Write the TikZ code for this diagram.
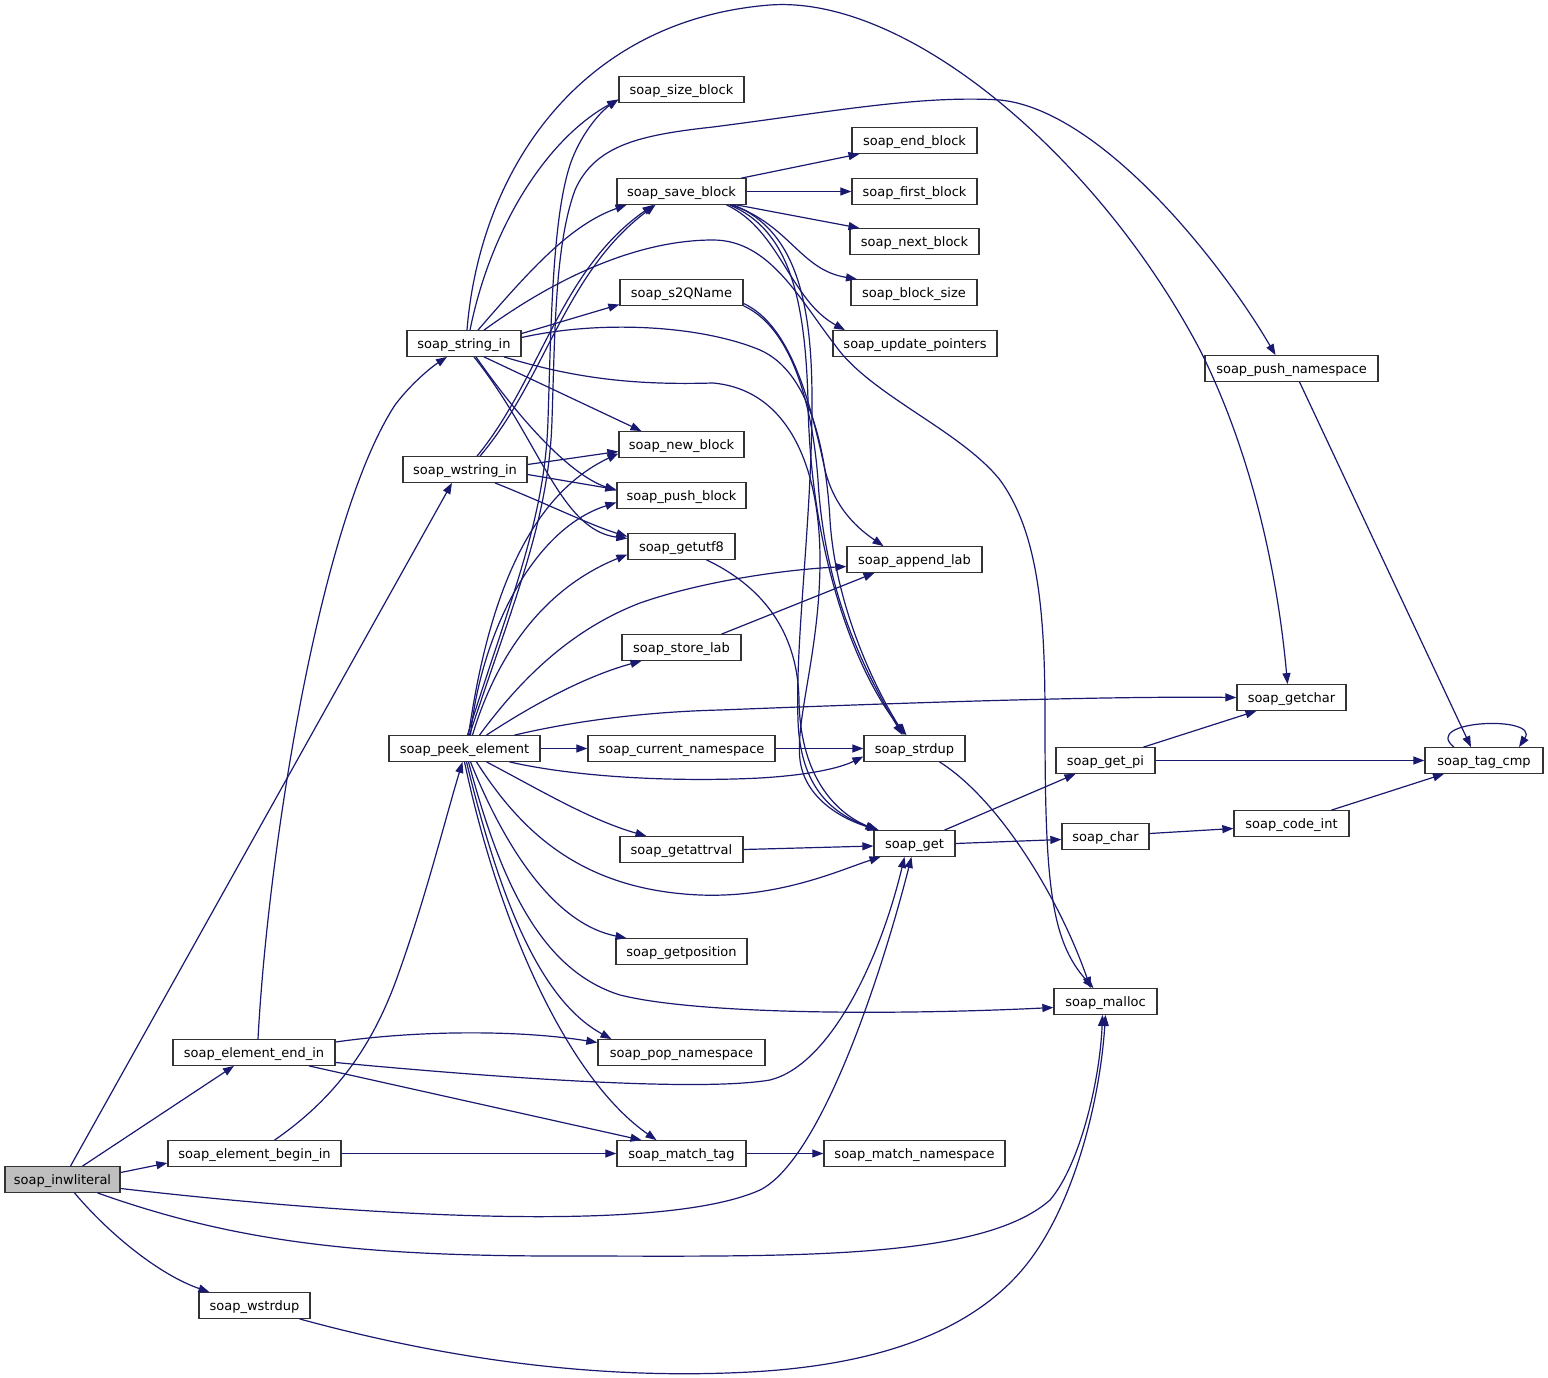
\documentclass[tikz,border=0pt]{standalone}
\usepackage{fontspec}
\setmainfont{DejaVu Sans}
\usetikzlibrary{arrows.meta}
\definecolor{edgecol}{RGB}{25,25,112}
\definecolor{grayfill}{RGB}{191,191,191}
\begin{document}
\begin{tikzpicture}[x=1pt,y=-1pt,
  fn/.style={draw=black!80, fill=white, line width=1.3pt, inner sep=0pt, minimum height=25.5pt,
    font=\fontsize{13pt}{15pt}\selectfont, text height=11pt, text depth=1.3pt},
  e/.style={draw=edgecol, line width=1.2pt, -{Triangle[length=11pt,width=8pt]}}]
\useasboundingbox (0,0) rectangle (1548,1378);
\fill[white] (0,0) rectangle (1548,1378);
% nodes
\node[fn, fill=grayfill, minimum width=115pt] (ilit) at (62.5,1179.5) {soap\_inwliteral};
\node[fn, minimum width=162pt] (eend) at (254,1052.5) {soap\_element\_end\_in};
\node[fn, minimum width=173pt] (ebeg) at (254.5,1153.5) {soap\_element\_begin\_in};
\node[fn, minimum width=111pt] (wdup) at (254.5,1305.5) {soap\_wstrdup};
\node[fn, minimum width=114pt] (sin) at (464,343.5) {soap\_string\_in};
\node[fn, minimum width=124pt] (wsin) at (465,469.5) {soap\_wstring\_in};
\node[fn, minimum width=151pt] (peek) at (464.5,748.5) {soap\_peek\_element};
\node[fn, minimum width=125pt] (sizeb) at (681.5,89.5) {soap\_size\_block};
\node[fn, minimum width=129pt] (saveb) at (681.5,191.5) {soap\_save\_block};
\node[fn, minimum width=123pt] (s2q) at (681.5,292.5) {soap\_s2QName};
\node[fn, minimum width=125pt] (newb) at (681.5,444.5) {soap\_new\_block};
\node[fn, minimum width=129pt] (pushb) at (681.5,495.5) {soap\_push\_block};
\node[fn, minimum width=107pt] (utf8) at (681.5,546.5) {soap\_getutf8};
\node[fn, minimum width=119pt] (store) at (681.5,647.5) {soap\_store\_lab};
\node[fn, minimum width=187pt] (curns) at (681.5,748.5) {soap\_current\_namespace};
\node[fn, minimum width=123pt] (attr) at (681.5,849.5) {soap\_getattrval};
\node[fn, minimum width=131pt] (getpos) at (681.5,951.5) {soap\_getposition};
\node[fn, minimum width=167pt] (popns) at (681.5,1052.5) {soap\_pop\_namespace};
\node[fn, minimum width=129pt] (mtag) at (681.5,1153.5) {soap\_match\_tag};
\node[fn, minimum width=125pt] (endb) at (914.5,140.5) {soap\_end\_block};
\node[fn, minimum width=125pt] (firstb) at (914.5,191.5) {soap\_first\_block};
\node[fn, minimum width=129pt] (nextb) at (914.5,241.5) {soap\_next\_block};
\node[fn, minimum width=126pt] (bsize) at (914,292.5) {soap\_block\_size};
\node[fn, minimum width=164pt] (updp) at (915,343.5) {soap\_update\_pointers};
\node[fn, minimum width=135pt] (alab) at (914.5,559.5) {soap\_append\_lab};
\node[fn, minimum width=101pt] (strdup) at (914.5,748.5) {soap\_strdup};
\node[fn, minimum width=81pt] (sget) at (914.5,843.5) {soap\_get};
\node[fn, minimum width=181pt] (mns) at (914.5,1153.5) {soap\_match\_namespace};
\node[fn, minimum width=173pt] (pushns) at (1291.5,368.5) {soap\_push\_namespace};
\node[fn, minimum width=109pt] (getchar) at (1291.5,697.5) {soap\_getchar};
\node[fn, minimum width=99pt] (getpi) at (1105.5,760.5) {soap\_get\_pi};
\node[fn, minimum width=87pt] (schar) at (1105.5,836.5) {soap\_char};
\node[fn, minimum width=103pt] (malloc) at (1105.5,1001.5) {soap\_malloc};
\node[fn, minimum width=115pt] (codeint) at (1291.5,823.5) {soap\_code\_int};
\node[fn, minimum width=118pt] (tagcmp) at (1484,760.5) {soap\_tag\_cmp};
% edges from soap_inwliteral
\draw[e] ([xshift=8pt]ilit.north) -- ([xshift=-13pt]wsin.south);
\draw[e] ([xshift=20pt]ilit.north) -- ([xshift=-20pt]eend.south);
\draw[e] ([yshift=7pt]ilit.east) -- ([yshift=-9.5pt]ebeg.west);
\draw[e] ([yshift=-9pt]ilit.east) .. controls (350,1215) and (660,1235) .. (760,1190) .. controls (820,1160) and (880,980) .. ([xshift=-3pt]sget.south);
\draw[e] ([xshift=35pt]ilit.south) .. controls (230,1240) and (350,1256) .. (560,1256) .. controls (780,1256) and (980,1262) .. (1050,1200) .. controls (1080,1165) and (1100,1080) .. ([xshift=-3pt]malloc.south);
\draw[e] ([xshift=12pt]ilit.south) .. controls (110,1235) and (160,1275) .. ([xshift=-45pt]wdup.north);
\draw[e] ([xshift=45pt]wdup.south) .. controls (450,1360) and (600,1380) .. (750,1372) .. controls (900,1364) and (985,1320) .. (1030,1260) .. controls (1075,1200) and (1100,1100) .. (malloc.south);
% soap_element_end_in
\draw[e] ([xshift=4pt]eend.north) .. controls (268,850) and (320,520) .. (395,405) .. controls (410,385) and (430,368) .. ([xshift=-17pt]sin.south);
\draw[e] ([yshift=10.5pt]eend.east) .. controls (420,1030) and (520,1030) .. ([yshift=10pt]popns.west);
\draw[e] ([yshift=-10pt]eend.east) .. controls (500,1078) and (700,1092) .. (770,1080) .. controls (830,1065) and (880,960) .. ([xshift=-10pt]sget.south);
\draw[e] ([xshift=55pt]eend.south) -- ([xshift=-40pt]mtag.north);
% soap_element_begin_in
\draw[e] ([xshift=20pt]ebeg.north) .. controls (340,1095) and (375,1040) .. (398,975) .. controls (425,900) and (445,820) .. ([xshift=-2pt]peek.south);
\draw[e] (ebeg.east) -- (mtag.west);
% soap_string_in
\draw[e] ([xshift=3pt]sin.north) .. controls (480,170) and (580,20) .. (770,5) .. controls (910,-5) and (1100,160) .. (1200,350) .. controls (1260,470) and (1280,600) .. ([xshift=-4pt]getchar.north);
\draw[e] ([xshift=6pt]sin.north) .. controls (490,230) and (545,140) .. ([yshift=-10pt]sizeb.west);
\draw[e] ([xshift=14pt]sin.north) .. controls (530,270) and (570,225) .. ([xshift=-55pt]saveb.south);
\draw[e] ([xshift=20pt]sin.north) .. controls (560,275) and (640,240) .. (713,240) .. controls (770,240) and (800,300) .. (835,345) .. controls (870,395) and (960,430) .. (1000,480) .. controls (1040,535) and (1045,620) .. (1045,720) .. controls (1045,880) and (1050,940) .. ([xshift=-12pt]malloc.north);
\draw[e] ([yshift=10pt]sin.east) -- ([yshift=-12pt]s2q.west);
\draw[e] ([yshift=6pt]sin.east) .. controls (600,320) and (700,325) .. (760,350) .. controls (810,372) and (826,450) .. (830,520) .. controls (835,600) and (870,680) .. ([xshift=-10pt]strdup.north);
\draw[e] ([xshift=40pt]sin.south) .. controls (580,380) and (640,385) .. (713,383) .. controls (790,390) and (820,470) .. (820,560) .. controls (820,650) and (795,720) .. (800,760) .. controls (805,800) and (845,820) .. ([xshift=-36pt]sget.north);
\draw[e] ([xshift=20pt]sin.south) -- ([xshift=-40pt]newb.north);
\draw[e] ([xshift=12pt]sin.south) .. controls (520,420) and (570,475) .. ([yshift=5pt]pushb.west);
\draw[e] ([xshift=10pt]sin.south) .. controls (540,440) and (560,530) .. ([yshift=8pt]utf8.west);
% soap_wstring_in
\draw[e] ([xshift=12pt]wsin.north) .. controls (540,380) and (560,270) .. ([xshift=-28pt]saveb.south);
\draw[e] ([xshift=15pt]wsin.north) .. controls (545,380) and (565,272) .. ([xshift=-26pt]saveb.south);
\draw[e] ([yshift=5pt]wsin.east) -- ([yshift=-7pt]newb.west);
\draw[e] ([yshift=-5pt]wsin.east) -- ([yshift=6pt]pushb.west);
\draw[e] ([xshift=30pt]wsin.south) .. controls (550,505) and (590,525) .. ([yshift=10pt]utf8.west);
% soap_peek_element
\draw[e] ([xshift=3pt]peek.north) .. controls (510,600) and (545,520) .. (548,420) .. controls (551,330) and (552,220) .. (570,165) .. controls (580,135) and (600,112) .. ([yshift=-10pt]sizeb.west);
\draw[e] ([xshift=5pt]peek.north) .. controls (514,600) and (549,520) .. (552,420) .. controls (555,330) and (555,245) .. (575,190) .. controls (595,145) and (640,135) .. (713,127) .. controls (830,112) and (920,95) .. (1000,100) .. controls (1100,110) and (1220,260) .. ([xshift=-16pt]pushns.north);
\draw[e] ([xshift=4pt]peek.north) .. controls (485,620) and (520,500) .. ([yshift=-9pt]newb.west);
\draw[e] ([xshift=6pt]peek.north) .. controls (480,640) and (530,530) .. ([yshift=-7pt]pushb.west);
\draw[e] ([xshift=8pt]peek.north) .. controls (495,660) and (540,590) .. ([yshift=-8pt]utf8.west);
\draw[e] ([xshift=15pt]peek.north) .. controls (520,680) and (570,630) .. (640,603) .. controls (700,582) and (780,570) .. ([yshift=-7pt]alab.west);
\draw[e] ([xshift=22pt]peek.north) .. controls (540,700) and (590,675) .. ([xshift=-40pt]store.south);
\draw[e] ([xshift=50pt]peek.north) .. controls (570,722) and (640,712) .. (720,710) .. controls (900,703) and (1100,696) .. (getchar.west);
\draw[e] (peek.east) -- (curns.west);
\draw[e] ([xshift=45pt]peek.south) .. controls (580,778) and (680,782) .. (760,778) .. controls (810,775) and (840,768) .. ([yshift=-8pt]strdup.west);
\draw[e] ([xshift=22pt]peek.south) .. controls (540,790) and (590,820) .. ([xshift=-35pt]attr.north);
\draw[e] ([xshift=12pt]peek.south) .. controls (520,830) and (580,890) .. (700,895) .. controls (780,898) and (840,870) .. ([xshift=-34pt]sget.south);
\draw[e] ([xshift=6pt]peek.south) .. controls (510,860) and (560,925) .. ([xshift=-55pt]getpos.north);
\draw[e] ([xshift=4pt]peek.south) .. controls (500,880) and (540,970) .. (620,995) .. controls (700,1015) and (900,1015) .. ([yshift=-6pt]malloc.west);
\draw[e] ([xshift=2pt]peek.south) .. controls (500,900) and (540,1000) .. ([xshift=-70pt]popns.north);
\draw[e] (peek.south) .. controls (500,930) and (570,1080) .. ([xshift=-25pt]mtag.north);
% middle column
\draw[e] (curns.east) -- (strdup.west);
\draw[e] (attr.east) -- ([yshift=-2.5pt]sget.west);
\draw[e] ([xshift=40pt]store.north) -- ([xshift=-40pt]alab.south);
\draw[e] ([xshift=25pt]utf8.south) .. controls (770,590) and (798,640) .. (799,700) .. controls (800,770) and (830,810) .. ([xshift=-38pt]sget.north);
\draw[e] ([yshift=-11pt]s2q.east) .. controls (790,325) and (810,400) .. (825,470) .. controls (835,510) and (860,530) .. ([xshift=-31pt]alab.north);
\draw[e] (s2q.south east) .. controls (790,327) and (812,400) .. (818,480) .. controls (825,600) and (870,680) .. ([xshift=-12pt]strdup.north);
\draw[e] (mtag.east) -- (mns.west);
% soap_save_block
\draw[e] ([xshift=60pt]saveb.north) -- ([xshift=-55pt]endb.south);
\draw[e] (saveb.east) -- (firstb.west);
\draw[e] ([xshift=55pt]saveb.south) -- ([xshift=-55pt]nextb.north);
\draw[e] ([xshift=50pt]saveb.south) .. controls (790,225) and (800,270) .. ([xshift=-57pt]bsize.north);
\draw[e] ([xshift=45pt]saveb.south) .. controls (780,230) and (790,300) .. ([xshift=-70pt]updp.north);
\draw[e] ([xshift=48pt]saveb.south) .. controls (790,230) and (805,300) .. (808,400) .. controls (810,560) and (860,680) .. ([xshift=-8pt]strdup.north);
\draw[e] ([xshift=52pt]saveb.south) .. controls (795,230) and (812,300) .. (812,400) .. controls (812,520) and (795,640) .. (798,720) .. controls (800,790) and (835,815) .. ([xshift=-36pt]sget.north);
% right part
\draw[e] ([xshift=30pt]sget.north) -- ([xshift=-30pt]getpi.south);
\draw[e] (sget.east) -- ([yshift=-3pt]schar.west);
\draw[e] ([xshift=25pt]strdup.south) .. controls (1000,800) and (1060,900) .. ([xshift=-15pt]malloc.north);
\draw[e] ([xshift=38pt]getpi.north) -- ([xshift=-35pt]getchar.south);
\draw[e] (getpi.east) -- (tagcmp.west);
\draw[e] ([yshift=3pt]schar.east) -- ([yshift=-5pt]codeint.west);
\draw[e] ([xshift=40pt]codeint.north) -- ([xshift=-40pt]tagcmp.south);
\draw[e] ([xshift=8pt]pushns.south) -- ([xshift=-13pt]tagcmp.north);
\draw[e] ([xshift=-30pt]tagcmp.north) .. controls (1420,720) and (1540,715) .. ([xshift=35pt]tagcmp.north);
\end{tikzpicture}
\end{document}
